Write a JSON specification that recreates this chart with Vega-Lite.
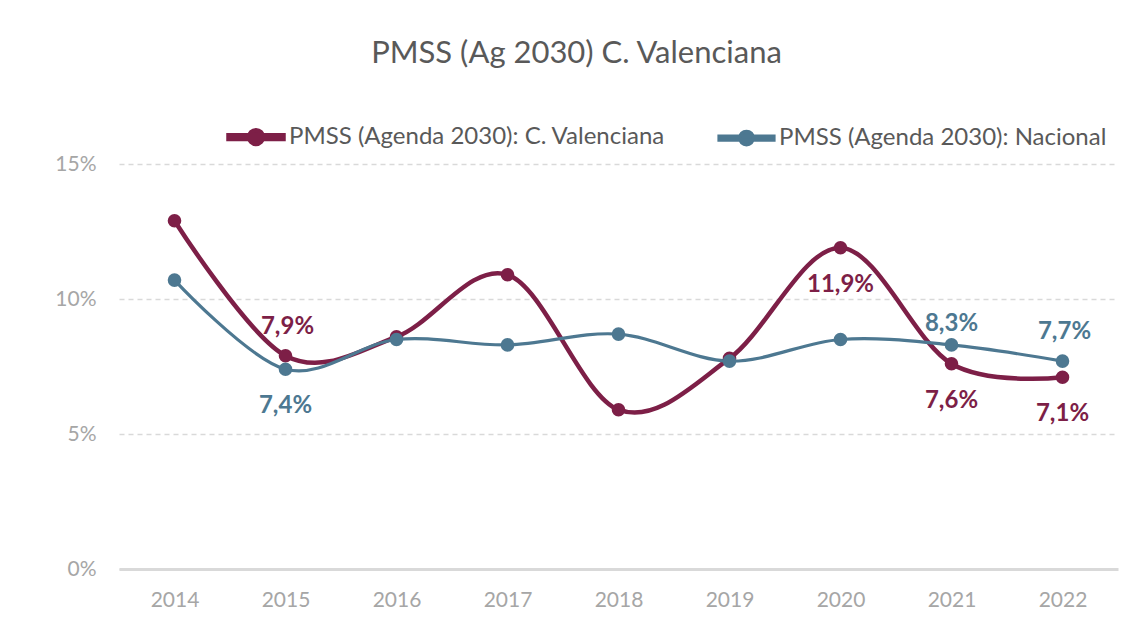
{
  "$schema": "https://vega.github.io/schema/vega-lite/v6.json",
  "width": 999,
  "height": 405,
  "autosize": {"type": "none"},
  "padding": {"left": 119, "top": 164, "right": 21, "bottom": 58},
  "background": "white",
  "config": {
    "locale": {"number": {"decimal": ",", "thousands": ".", "grouping": [3], "currency": ["", " €"]}},
    "view": {"stroke": null},
    "font": "Lato"
  },
  "title": {
    "text": "PMSS (Ag 2030) C. Valenciana",
    "fontSize": 31,
    "font": "Lato",
    "fontWeight": "normal",
    "color": "#595959",
    "anchor": "middle",
    "dx": -42,
    "offset": 37
  },
  "data": {
    "values": [
      {"year": "2014", "series": "PMSS (Agenda 2030): C. Valenciana", "value": 0.129},
      {"year": "2015", "series": "PMSS (Agenda 2030): C. Valenciana", "value": 0.079},
      {"year": "2016", "series": "PMSS (Agenda 2030): C. Valenciana", "value": 0.086},
      {"year": "2017", "series": "PMSS (Agenda 2030): C. Valenciana", "value": 0.109},
      {"year": "2018", "series": "PMSS (Agenda 2030): C. Valenciana", "value": 0.059},
      {"year": "2019", "series": "PMSS (Agenda 2030): C. Valenciana", "value": 0.078},
      {"year": "2020", "series": "PMSS (Agenda 2030): C. Valenciana", "value": 0.119},
      {"year": "2021", "series": "PMSS (Agenda 2030): C. Valenciana", "value": 0.076},
      {"year": "2022", "series": "PMSS (Agenda 2030): C. Valenciana", "value": 0.071},
      {"year": "2014", "series": "PMSS (Agenda 2030): Nacional", "value": 0.107},
      {"year": "2015", "series": "PMSS (Agenda 2030): Nacional", "value": 0.074},
      {"year": "2016", "series": "PMSS (Agenda 2030): Nacional", "value": 0.085},
      {"year": "2017", "series": "PMSS (Agenda 2030): Nacional", "value": 0.083},
      {"year": "2018", "series": "PMSS (Agenda 2030): Nacional", "value": 0.087},
      {"year": "2019", "series": "PMSS (Agenda 2030): Nacional", "value": 0.077},
      {"year": "2020", "series": "PMSS (Agenda 2030): Nacional", "value": 0.085},
      {"year": "2021", "series": "PMSS (Agenda 2030): Nacional", "value": 0.083},
      {"year": "2022", "series": "PMSS (Agenda 2030): Nacional", "value": 0.077}
    ]
  },
  "encoding": {
    "x": {
      "field": "year",
      "type": "ordinal",
      "scale": {"type": "point", "padding": 0.5},
      "axis": {
        "title": null,
        "labelAngle": 0,
        "labelFontSize": 21,
        "labelColor": "#A6A6A6",
        "labelFont": "Lato",
        "labelPadding": 20,
        "ticks": false,
        "grid": false,
        "domainColor": "#D9D9D9",
        "domainWidth": 3
      }
    },
    "y": {
      "field": "value",
      "type": "quantitative",
      "scale": {"domain": [0, 0.15], "nice": false},
      "axis": {
        "title": null,
        "values": [0, 0.05, 0.1, 0.15],
        "format": ".0%",
        "labelFontSize": 21,
        "labelColor": "#A6A6A6",
        "labelFont": "Lato",
        "labelPadding": 23,
        "ticks": false,
        "domain": false,
        "grid": true,
        "gridColor": "#D9D9D9",
        "gridDash": [5, 4],
        "gridWidth": 1.3
      }
    },
    "color": {
      "field": "series",
      "type": "nominal",
      "scale": {
        "domain": ["PMSS (Agenda 2030): C. Valenciana", "PMSS (Agenda 2030): Nacional"],
        "range": ["#7D1F47", "#4D7891"]
      },
      "legend": {
        "title": null,
        "orient": "none",
        "direction": "horizontal",
        "legendX": 107,
        "legendY": -57,
        "padding": 0,
        "labelFontSize": 24,
        "labelColor": "#595959",
        "labelFont": "Lato",
        "labelLimit": 0,
        "labelOffset": 3,
        "columnPadding": 46,
        "symbolType": "M-1,-0.07L1,-0.07L1,0.07L-1,0.07Z M-0.25,0A0.25,0.25,0,1,1,0.25,0A0.25,0.25,0,1,1,-0.25,0Z",
        "symbolSize": 3025,
        "symbolStrokeWidth": 0,
        "encode": {
          "symbols": {
            "update": {
              "fill": {"scale": "color", "field": "value"},
              "stroke": {"value": "transparent"},
              "strokeWidth": {"value": 0},
              "opacity": {"value": 1}
            }
          }
        }
      }
    }
  },
  "layer": [
    {
      "mark": {"type": "line", "interpolate": "cardinal", "strokeCap": "round"},
      "encoding": {
        "strokeWidth": {
          "field": "series",
          "type": "nominal",
          "scale": {
            "domain": ["PMSS (Agenda 2030): C. Valenciana", "PMSS (Agenda 2030): Nacional"],
            "range": [4.5, 3.2]
          },
          "legend": null
        }
      }
    },
    {
      "mark": {"type": "point", "filled": true, "opacity": 1, "size": 185}
    },
    {
      "transform": [{"filter": "(datum.series == 'PMSS (Agenda 2030): C. Valenciana' && datum.year == '2015') || (datum.series == 'PMSS (Agenda 2030): Nacional' && datum.year == '2022')"}],
      "mark": {"type": "text", "fontSize": 24, "fontWeight": "bold", "font": "Lato", "baseline": "middle", "dy": -29, "dx": 2},
      "encoding": {"text": {"field": "value", "type": "quantitative", "format": ".1%"}}
    },
    {
      "transform": [{"filter": "datum.series == 'PMSS (Agenda 2030): Nacional' && datum.year == '2021'"}],
      "mark": {"type": "text", "fontSize": 24, "fontWeight": "bold", "font": "Lato", "baseline": "middle", "dy": -21},
      "encoding": {"text": {"field": "value", "type": "quantitative", "format": ".1%"}}
    },
    {
      "transform": [{"filter": "(datum.series == 'PMSS (Agenda 2030): C. Valenciana' && (datum.year == '2020' || datum.year == '2021' || datum.year == '2022')) || (datum.series == 'PMSS (Agenda 2030): Nacional' && datum.year == '2015')"}],
      "mark": {"type": "text", "fontSize": 24, "fontWeight": "bold", "font": "Lato", "baseline": "middle", "dy": 37},
      "encoding": {"text": {"field": "value", "type": "quantitative", "format": ".1%"}}
    }
  ]
}
